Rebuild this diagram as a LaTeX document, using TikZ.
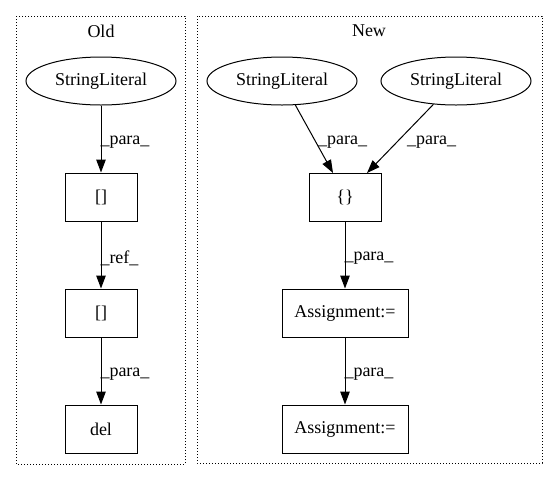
\documentclass[tikz,border=0pt]{standalone}
\usepackage{fontspec}
\setmainfont{Liberation Serif}
\usetikzlibrary{shapes.geometric,arrows.meta}
\begin{document}
\begin{tikzpicture}[x=1pt,y=-1pt,
  every node/.style={font=\fontsize{18pt}{20pt}\selectfont, inner sep=0pt},
  ell/.style={draw, ellipse, minimum width=150pt, minimum height=48pt, line width=1pt},
  box/.style={draw, rectangle, minimum height=48pt, line width=1pt},
  cluster/.style={draw, dotted, line width=1pt},
  edge/.style={draw, line width=1pt, -{Triangle[length=13pt,width=9.5pt]}},
  lab/.style={anchor=west}]
\useasboundingbox (0,0) rectangle (557,480);
\draw[cluster] (16,16) rectangle (185,464);
\draw[cluster] (197,16) rectangle (542,463);
\node (oldt) at (101,31) {Old};
\node (newt) at (369,31) {New};
% Old
\node[ell] (osl) at (101,81) {StringLiteral};
\node[box, minimum width=72pt] (ob1) at (101,197) {[]};
\node[box, minimum width=72pt] (ob2) at (101,313) {[]};
\node[box, minimum width=72pt] (odel) at (101,429) {del};
\draw[edge] (osl) -- (ob1) node[pos=0.55, lab, xshift=-1pt] {\_para\_};
\draw[edge] (ob1) -- (ob2) node[pos=0.55, lab, xshift=-1pt] {\_ref\_};
\draw[edge] (ob2) -- (odel) node[pos=0.55, lab, xshift=-1pt] {\_para\_};
% New
\node[ell] (nsl1) at (282,81) {StringLiteral};
\node[ell] (nsl2) at (456,81) {StringLiteral};
\node[box, minimum width=72pt] (nbr) at (345,197) {\{\}};
\node[box, minimum width=126pt] (na1) at (345,313) {Assignment:=};
\node[box, minimum width=126pt] (na2) at (345,429) {Assignment:=};
\coordinate (t1) at (333,173);
\coordinate (t2) at (367,173);
\draw[edge] (nsl1) -- (t1);
\draw[edge] (nsl2) -- (t2);
\node[lab] (l1) at (318,142) {\_para\_};
\node[lab] (l2) at (407,142) {\_para\_};
\draw[edge] (nbr) -- (na1) node[pos=0.55, lab, xshift=-1pt] {\_para\_};
\draw[edge] (na1) -- (na2) node[pos=0.55, lab, xshift=-1pt] {\_para\_};
\end{tikzpicture}
\end{document}
